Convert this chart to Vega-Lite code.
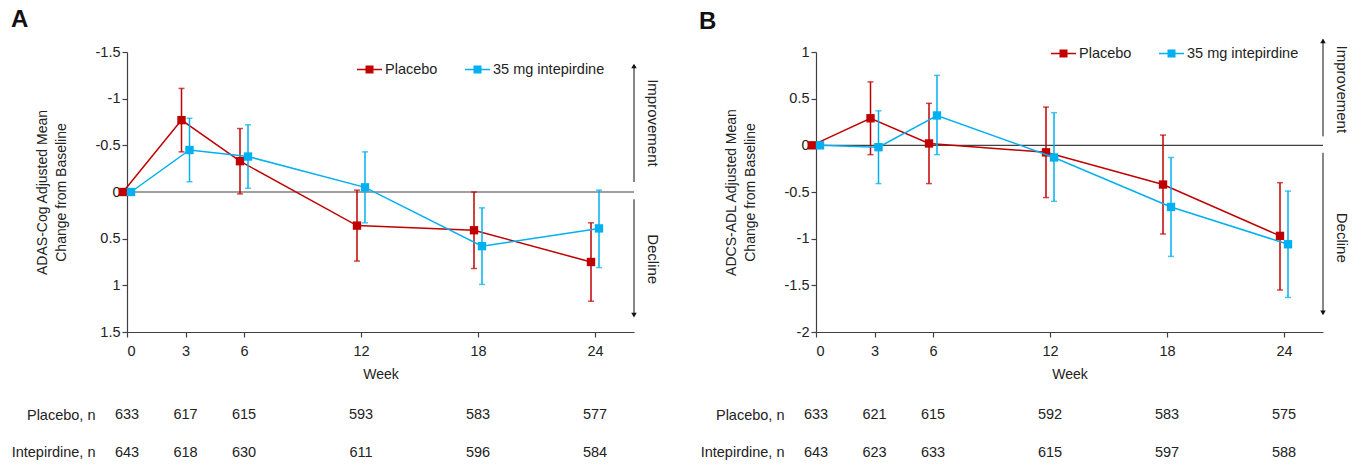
{
  "$schema": "https://vega.github.io/schema/vega-lite/v6.json",
  "padding": {"left": 11, "top": 8, "right": 5, "bottom": 5},
  "bounds": "flush",
  "columns": 2,
  "spacing": {"row": 76, "column": 182},
  "resolve": {"scale": {"x": "independent", "y": "independent", "color": "independent"}, "legend": {"color": "independent"}},
  "config": {
    "font": "Liberation Sans",
    "view": {"stroke": null},
    "axis": {"grid": false, "domainColor": "#404040", "tickColor": "#404040", "labelColor": "#222222", "titleColor": "#222222", "labelFontSize": 14.5, "titleFontSize": 14, "titleFontWeight": "normal", "tickSize": 5, "domainWidth": 1.2, "tickWidth": 1.2},
    "title": {"color": "#111111"}
  },
  "datasets": {
    "pts": [
      {"panel": "A", "group": "Placebo", "week": 0, "mean": 0, "lower": null, "upper": null},
      {"panel": "A", "group": "Placebo", "week": 3, "mean": -0.77, "lower": -1.11, "upper": -0.43},
      {"panel": "A", "group": "Placebo", "week": 6, "mean": -0.33, "lower": -0.68, "upper": 0.02},
      {"panel": "A", "group": "Placebo", "week": 12, "mean": 0.36, "lower": -0.02, "upper": 0.74},
      {"panel": "A", "group": "Placebo", "week": 18, "mean": 0.41, "lower": 0.0, "upper": 0.82},
      {"panel": "A", "group": "Placebo", "week": 24, "mean": 0.75, "lower": 0.33, "upper": 1.17},
      {"panel": "A", "group": "35 mg intepirdine", "week": 0, "mean": 0, "lower": null, "upper": null},
      {"panel": "A", "group": "35 mg intepirdine", "week": 3, "mean": -0.45, "lower": -0.79, "upper": -0.11},
      {"panel": "A", "group": "35 mg intepirdine", "week": 6, "mean": -0.38, "lower": -0.72, "upper": -0.04},
      {"panel": "A", "group": "35 mg intepirdine", "week": 12, "mean": -0.05, "lower": -0.43, "upper": 0.33},
      {"panel": "A", "group": "35 mg intepirdine", "week": 18, "mean": 0.58, "lower": 0.17, "upper": 0.99},
      {"panel": "A", "group": "35 mg intepirdine", "week": 24, "mean": 0.39, "lower": -0.02, "upper": 0.81},
      {"panel": "B", "group": "Placebo", "week": 0, "mean": 0, "lower": null, "upper": null},
      {"panel": "B", "group": "Placebo", "week": 3, "mean": 0.29, "lower": -0.1, "upper": 0.68},
      {"panel": "B", "group": "Placebo", "week": 6, "mean": 0.02, "lower": -0.41, "upper": 0.45},
      {"panel": "B", "group": "Placebo", "week": 12, "mean": -0.075, "lower": -0.56, "upper": 0.41},
      {"panel": "B", "group": "Placebo", "week": 18, "mean": -0.42, "lower": -0.95, "upper": 0.11},
      {"panel": "B", "group": "Placebo", "week": 24, "mean": -0.97, "lower": -1.55, "upper": -0.4},
      {"panel": "B", "group": "35 mg intepirdine", "week": 0, "mean": 0, "lower": null, "upper": null},
      {"panel": "B", "group": "35 mg intepirdine", "week": 3, "mean": -0.02, "lower": -0.41, "upper": 0.37},
      {"panel": "B", "group": "35 mg intepirdine", "week": 6, "mean": 0.32, "lower": -0.1, "upper": 0.75},
      {"panel": "B", "group": "35 mg intepirdine", "week": 12, "mean": -0.13, "lower": -0.6, "upper": 0.35},
      {"panel": "B", "group": "35 mg intepirdine", "week": 18, "mean": -0.66, "lower": -1.19, "upper": -0.13},
      {"panel": "B", "group": "35 mg intepirdine", "week": 24, "mean": -1.06, "lower": -1.63, "upper": -0.49}
    ],
    "counts": [
      {"panel": "A", "row": "Placebo, n", "week": 0, "n": 633},
      {"panel": "A", "row": "Placebo, n", "week": 3, "n": 617},
      {"panel": "A", "row": "Placebo, n", "week": 6, "n": 615},
      {"panel": "A", "row": "Placebo, n", "week": 12, "n": 593},
      {"panel": "A", "row": "Placebo, n", "week": 18, "n": 583},
      {"panel": "A", "row": "Placebo, n", "week": 24, "n": 577},
      {"panel": "A", "row": "Intepirdine, n", "week": 0, "n": 643},
      {"panel": "A", "row": "Intepirdine, n", "week": 3, "n": 618},
      {"panel": "A", "row": "Intepirdine, n", "week": 6, "n": 630},
      {"panel": "A", "row": "Intepirdine, n", "week": 12, "n": 611},
      {"panel": "A", "row": "Intepirdine, n", "week": 18, "n": 596},
      {"panel": "A", "row": "Intepirdine, n", "week": 24, "n": 584},
      {"panel": "B", "row": "Placebo, n", "week": 0, "n": 633},
      {"panel": "B", "row": "Placebo, n", "week": 3, "n": 621},
      {"panel": "B", "row": "Placebo, n", "week": 6, "n": 615},
      {"panel": "B", "row": "Placebo, n", "week": 12, "n": 592},
      {"panel": "B", "row": "Placebo, n", "week": 18, "n": 583},
      {"panel": "B", "row": "Placebo, n", "week": 24, "n": 575},
      {"panel": "B", "row": "Intepirdine, n", "week": 0, "n": 643},
      {"panel": "B", "row": "Intepirdine, n", "week": 3, "n": 623},
      {"panel": "B", "row": "Intepirdine, n", "week": 6, "n": 633},
      {"panel": "B", "row": "Intepirdine, n", "week": 12, "n": 615},
      {"panel": "B", "row": "Intepirdine, n", "week": 18, "n": 597},
      {"panel": "B", "row": "Intepirdine, n", "week": 24, "n": 588}
    ]
  },
  "concat": [
    {
      "width": 507, "height": 280,
      "title": {"text": "A", "anchor": "start", "frame": "group", "fontSize": 24, "fontWeight": "bold", "dx": -116, "offset": 12},
      "layer": [
        {"data": {"values": [{}]}, "mark": {"type": "rule", "color": "#404040", "strokeWidth": 1.2}, "encoding": {"y": {"datum": 0, "type": "quantitative"}}},
        {"data": {"values": [{}]}, "mark": {"type": "rule", "color": "#111111", "strokeWidth": 1}, "encoding": {"x": {"datum": 26, "type": "quantitative"}, "y": {"datum": -0.107, "type": "quantitative"}, "y2": {"datum": -1.36}}},
        {"data": {"values": [{}]}, "mark": {"type": "rule", "color": "#111111", "strokeWidth": 1}, "encoding": {"x": {"datum": 26, "type": "quantitative"}, "y": {"datum": 0.078, "type": "quantitative"}, "y2": {"datum": 1.33}}},
        {"data": {"values": [{}]}, "mark": {"type": "point", "shape": "triangle-up", "filled": true, "opacity": 1, "color": "#111111", "size": 30}, "encoding": {"x": {"datum": 26, "type": "quantitative"}, "y": {"datum": -1.35, "type": "quantitative"}}},
        {"data": {"values": [{}]}, "mark": {"type": "point", "shape": "triangle-down", "filled": true, "opacity": 1, "color": "#111111", "size": 30}, "encoding": {"x": {"datum": 26, "type": "quantitative"}, "y": {"datum": 1.32, "type": "quantitative"}}},
        {"data": {"values": [{}]}, "mark": {"type": "text", "text": "Improvement", "angle": 90, "align": "center", "baseline": "middle", "fontSize": 15, "color": "#222222"}, "encoding": {"x": {"datum": 26.95, "type": "quantitative"}, "y": {"datum": -0.74, "type": "quantitative"}}},
        {"data": {"values": [{}]}, "mark": {"type": "text", "text": "Decline", "angle": 90, "align": "center", "baseline": "middle", "fontSize": 15, "color": "#222222"}, "encoding": {"x": {"datum": 26.95, "type": "quantitative"}, "y": {"datum": 0.72, "type": "quantitative"}}},
        {
          "data": {"name": "pts"},
          "transform": [{"filter": "datum.panel == 'A' && datum.group == 'Placebo'"}],
          "encoding": {"x": {"field": "week", "type": "quantitative", "scale": {"domain": [0, 26], "nice": false, "zero": false}, "axis": {"values": [0, 3, 6, 12, 18, 24], "title": "Week", "labelPadding": 7, "titlePadding": 10}}},
          "layer": [
            {"mark": {"type": "line", "color": "#C00000", "strokeWidth": 1.5, "xOffset": -4}, "encoding": {"y": {"field": "mean", "type": "quantitative", "scale": {"domain": [-1.5, 1.5], "reverse": true, "nice": false, "zero": false}, "axis": {"values": [-1.5, -1, -0.5, 0, 0.5, 1, 1.5], "labelExpr": "'' + datum.value", "title": ["ADAS-Cog Adjusted Mean", "Change from Baseline"], "titlePadding": 27, "titleLineHeight": 19}}}},
            {"mark": {"type": "rule", "color": "#C00000", "strokeWidth": 1.5, "xOffset": -4}, "encoding": {"y": {"field": "lower", "type": "quantitative"}, "y2": {"field": "upper"}}},
            {"mark": {"type": "tick", "orient": "horizontal", "color": "#C00000", "size": 6, "thickness": 1.5, "xOffset": -4}, "encoding": {"y": {"field": "lower", "type": "quantitative"}}},
            {"mark": {"type": "tick", "orient": "horizontal", "color": "#C00000", "size": 6, "thickness": 1.5, "xOffset": -4}, "encoding": {"y": {"field": "upper", "type": "quantitative"}}},
            {"mark": {"type": "point", "shape": "square", "filled": true, "opacity": 1, "size": 70, "xOffset": -4}, "encoding": {"y": {"field": "mean", "type": "quantitative"}, "color": {"field": "group", "type": "nominal", "scale": {"domain": ["Placebo", "35 mg intepirdine"], "range": ["#C00000", "#00B0F0"]}, "legend": {"orient": "none", "legendX": 230, "legendY": 5, "direction": "horizontal", "title": null, "symbolType": "M-1,-0.06H1V0.06H-1Z M-0.32,-0.32H0.32V0.32H-0.32Z", "symbolSize": 625, "symbolStrokeWidth": 0, "labelFontSize": 14.5, "labelOffset": 3, "columnPadding": 27, "labelColor": "#222222"}}}}
          ]
        },
        {
          "data": {"name": "pts"},
          "transform": [{"filter": "datum.panel == 'A' && datum.group == '35 mg intepirdine'"}],
          "encoding": {"x": {"field": "week", "type": "quantitative"}},
          "layer": [
            {"mark": {"type": "line", "color": "#00B0F0", "strokeWidth": 1.5, "xOffset": 4}, "encoding": {"y": {"field": "mean", "type": "quantitative"}}},
            {"mark": {"type": "rule", "color": "#00B0F0", "strokeWidth": 1.5, "xOffset": 4}, "encoding": {"y": {"field": "lower", "type": "quantitative"}, "y2": {"field": "upper"}}},
            {"mark": {"type": "tick", "orient": "horizontal", "color": "#00B0F0", "size": 6, "thickness": 1.5, "xOffset": 4}, "encoding": {"y": {"field": "lower", "type": "quantitative"}}},
            {"mark": {"type": "tick", "orient": "horizontal", "color": "#00B0F0", "size": 6, "thickness": 1.5, "xOffset": 4}, "encoding": {"y": {"field": "upper", "type": "quantitative"}}},
            {"mark": {"type": "point", "shape": "square", "filled": true, "opacity": 1, "size": 70, "xOffset": 4}, "encoding": {"y": {"field": "mean", "type": "quantitative"}, "color": {"field": "group", "type": "nominal"}}}
          ]
        }
      ]
    },
    {
      "width": 507, "height": 280,
      "title": {"text": "B", "anchor": "start", "frame": "group", "fontSize": 24, "fontWeight": "bold", "dx": -117, "offset": 4},
      "layer": [
        {"data": {"values": [{}]}, "mark": {"type": "rule", "color": "#404040", "strokeWidth": 1.2}, "encoding": {"y": {"datum": 0, "type": "quantitative"}}},
        {"data": {"values": [{}]}, "mark": {"type": "rule", "color": "#111111", "strokeWidth": 1}, "encoding": {"x": {"datum": 26, "type": "quantitative"}, "y": {"datum": 0.096, "type": "quantitative"}, "y2": {"datum": 1.13}}},
        {"data": {"values": [{}]}, "mark": {"type": "rule", "color": "#111111", "strokeWidth": 1}, "encoding": {"x": {"datum": 26, "type": "quantitative"}, "y": {"datum": -0.08, "type": "quantitative"}, "y2": {"datum": -1.8}}},
        {"data": {"values": [{}]}, "mark": {"type": "point", "shape": "triangle-up", "filled": true, "opacity": 1, "color": "#111111", "size": 30}, "encoding": {"x": {"datum": 26, "type": "quantitative"}, "y": {"datum": 1.12, "type": "quantitative"}}},
        {"data": {"values": [{}]}, "mark": {"type": "point", "shape": "triangle-down", "filled": true, "opacity": 1, "color": "#111111", "size": 30}, "encoding": {"x": {"datum": 26, "type": "quantitative"}, "y": {"datum": -1.795, "type": "quantitative"}}},
        {"data": {"values": [{}]}, "mark": {"type": "text", "text": "Improvement", "angle": 90, "align": "center", "baseline": "middle", "fontSize": 15, "color": "#222222"}, "encoding": {"x": {"datum": 26.95, "type": "quantitative"}, "y": {"datum": 0.6, "type": "quantitative"}}},
        {"data": {"values": [{}]}, "mark": {"type": "text", "text": "Decline", "angle": 90, "align": "center", "baseline": "middle", "fontSize": 15, "color": "#222222"}, "encoding": {"x": {"datum": 26.95, "type": "quantitative"}, "y": {"datum": -0.99, "type": "quantitative"}}},
        {
          "data": {"name": "pts"},
          "transform": [{"filter": "datum.panel == 'B' && datum.group == 'Placebo'"}],
          "encoding": {"x": {"field": "week", "type": "quantitative", "scale": {"domain": [0, 26], "nice": false, "zero": false}, "axis": {"values": [0, 3, 6, 12, 18, 24], "title": "Week", "labelPadding": 7, "titlePadding": 10}}},
          "layer": [
            {"mark": {"type": "line", "color": "#C00000", "strokeWidth": 1.5, "xOffset": -4}, "encoding": {"y": {"field": "mean", "type": "quantitative", "scale": {"domain": [-2, 1], "nice": false, "zero": false}, "axis": {"values": [-2, -1.5, -1, -0.5, 0, 0.5, 1], "labelExpr": "'' + datum.value", "title": ["ADCS-ADL Adjusted Mean", "Change from Baseline"], "titlePadding": 27, "titleLineHeight": 19}}}},
            {"mark": {"type": "rule", "color": "#C00000", "strokeWidth": 1.5, "xOffset": -4}, "encoding": {"y": {"field": "lower", "type": "quantitative"}, "y2": {"field": "upper"}}},
            {"mark": {"type": "tick", "orient": "horizontal", "color": "#C00000", "size": 6, "thickness": 1.5, "xOffset": -4}, "encoding": {"y": {"field": "lower", "type": "quantitative"}}},
            {"mark": {"type": "tick", "orient": "horizontal", "color": "#C00000", "size": 6, "thickness": 1.5, "xOffset": -4}, "encoding": {"y": {"field": "upper", "type": "quantitative"}}},
            {"mark": {"type": "point", "shape": "square", "filled": true, "opacity": 1, "size": 70, "xOffset": -4}, "encoding": {"y": {"field": "mean", "type": "quantitative"}, "color": {"field": "group", "type": "nominal", "scale": {"domain": ["Placebo", "35 mg intepirdine"], "range": ["#C00000", "#00B0F0"]}, "legend": {"orient": "none", "legendX": 235, "legendY": -11, "direction": "horizontal", "title": null, "symbolType": "M-1,-0.06H1V0.06H-1Z M-0.32,-0.32H0.32V0.32H-0.32Z", "symbolSize": 625, "symbolStrokeWidth": 0, "labelFontSize": 14.5, "labelOffset": 3, "columnPadding": 27, "labelColor": "#222222"}}}}
          ]
        },
        {
          "data": {"name": "pts"},
          "transform": [{"filter": "datum.panel == 'B' && datum.group == '35 mg intepirdine'"}],
          "encoding": {"x": {"field": "week", "type": "quantitative"}},
          "layer": [
            {"mark": {"type": "line", "color": "#00B0F0", "strokeWidth": 1.5, "xOffset": 4}, "encoding": {"y": {"field": "mean", "type": "quantitative"}}},
            {"mark": {"type": "rule", "color": "#00B0F0", "strokeWidth": 1.5, "xOffset": 4}, "encoding": {"y": {"field": "lower", "type": "quantitative"}, "y2": {"field": "upper"}}},
            {"mark": {"type": "tick", "orient": "horizontal", "color": "#00B0F0", "size": 6, "thickness": 1.5, "xOffset": 4}, "encoding": {"y": {"field": "lower", "type": "quantitative"}}},
            {"mark": {"type": "tick", "orient": "horizontal", "color": "#00B0F0", "size": 6, "thickness": 1.5, "xOffset": 4}, "encoding": {"y": {"field": "upper", "type": "quantitative"}}},
            {"mark": {"type": "point", "shape": "square", "filled": true, "opacity": 1, "size": 70, "xOffset": 4}, "encoding": {"y": {"field": "mean", "type": "quantitative"}, "color": {"field": "group", "type": "nominal"}}}
          ]
        }
      ]
    },
    {
      "width": 507, "height": 52,
      "data": {"name": "counts"},
      "transform": [{"filter": "datum.panel == 'A'"}],
      "mark": {"type": "text", "fontSize": 14.5, "color": "#222222"},
      "encoding": {
        "x": {"field": "week", "type": "quantitative", "scale": {"domain": [0, 26], "nice": false, "zero": false}, "axis": null},
        "y": {"field": "row", "type": "nominal", "scale": {"domain": ["Placebo, n", "Intepirdine, n"], "padding": 0.2}, "axis": {"title": null, "domain": false, "ticks": false, "tickSize": 0, "labelPadding": 32, "labelFontSize": 14.5}},
        "text": {"field": "n", "type": "quantitative"}
      }
    },
    {
      "width": 507, "height": 52,
      "data": {"name": "counts"},
      "transform": [{"filter": "datum.panel == 'B'"}],
      "mark": {"type": "text", "fontSize": 14.5, "color": "#222222"},
      "encoding": {
        "x": {"field": "week", "type": "quantitative", "scale": {"domain": [0, 26], "nice": false, "zero": false}, "axis": null},
        "y": {"field": "row", "type": "nominal", "scale": {"domain": ["Placebo, n", "Intepirdine, n"], "padding": 0.2}, "axis": {"title": null, "domain": false, "ticks": false, "tickSize": 0, "labelPadding": 32, "labelFontSize": 14.5}},
        "text": {"field": "n", "type": "quantitative"}
      }
    }
  ]
}
